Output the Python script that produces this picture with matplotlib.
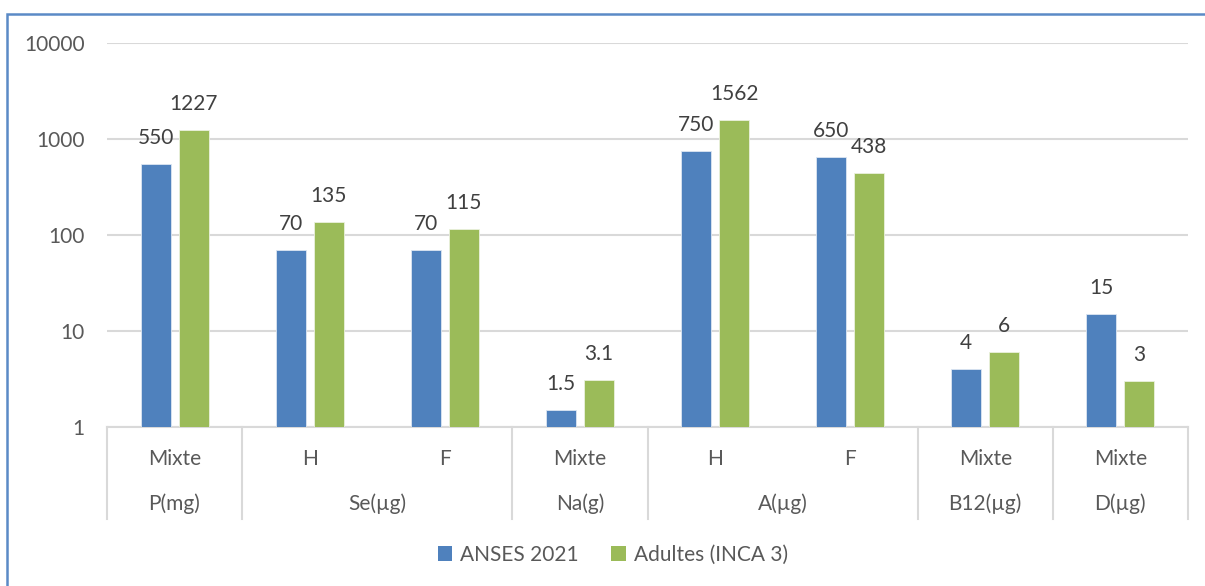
import matplotlib
matplotlib.use("Agg")
import matplotlib.pyplot as plt
from matplotlib.patches import Patch, Rectangle
from matplotlib.lines import Line2D
import numpy as np

plt.rcParams['font.family'] = ['Lato', 'DejaVu Sans']

# ---- data ----
sub_labels = ["Mixte", "H", "F", "Mixte", "H", "F", "Mixte", "Mixte"]
group_labels = ["P(mg)", "Se(µg)", "Na(g)", "A(µg)", "B12(µg)", "D(µg)"]
group_sizes = [1, 2, 1, 2, 1, 1]
anses = [550, 70, 70, 1.5, 750, 650, 4, 15]
inca = [1227, 135, 115, 3.1, 1562, 438, 6, 3]
anses_txt = ["550", "70", "70", "1.5", "750", "650", "4", "15"]
inca_txt = ["1227", "135", "115", "3.1", "1562", "438", "6", "3"]
series_names = ["ANSES 2021", "Adultes (INCA 3)"]
yticks = [1, 10, 100, 1000, 10000]

W, H = 1205, 586
fig = plt.figure(figsize=(W / 100, H / 100), dpi=100)
ax = fig.add_axes([107 / W, 1 - 427 / H, (1188 - 107) / W, (427 - 43) / H])

blue = "#4F81BD"
green = "#9BBB59"
txt_col = "#404040"
ax_col = "#595959"
grid_col = "#D9D9D9"

n = len(anses)
x = np.arange(n)
bw = 0.222
off = 0.141
b1 = ax.bar(x - off, anses, bw, color=blue, edgecolor="#DCE6F2", linewidth=0.6, zorder=3)
b2 = ax.bar(x + off, inca, bw, color=green, edgecolor="#EBF1DE", linewidth=0.6, zorder=3)

ax.set_yscale("log")
ax.set_ylim(1, 10000)
ax.set_xlim(-0.5, n - 0.5)
ax.set_yticks(yticks)
ax.set_yticklabels([str(v) for v in yticks])
ax.minorticks_off()
ax.tick_params(axis="y", length=0, pad=16, labelsize=15, labelcolor=ax_col)
ax.tick_params(axis="x", length=0, labelbottom=False)
ax.grid(axis="y", color=grid_col, linewidth=1.5, zorder=0)
for s in ["left", "right", "top"]:
    ax.spines[s].set_visible(False)
ax.spines["bottom"].set_color(grid_col)
ax.spines["bottom"].set_linewidth(1.5)

for bars, labels in ((b1, anses_txt), (b2, inca_txt)):
    for rect, lab in zip(bars, labels):
        ax.annotate(lab, (rect.get_x() + rect.get_width() / 2, rect.get_height()),
                    xytext=(0, 26), textcoords="offset pixels",
                    ha="center", va="center", fontsize=15, color=txt_col)

# two-level category axis
trans = ax.get_xaxis_transform()
y_row1 = -(459 - 427) / 384
y_row2 = -(504 - 427) / 384
y_sep = -(519 - 427) / 384
for i, lab in enumerate(sub_labels):
    ax.text(i, y_row1, lab, transform=trans, ha="center", va="center",
            fontsize=15, color=ax_col)
start = 0
bounds = [0]
for g, size in zip(group_labels, group_sizes):
    center = start + (size - 1) / 2
    ax.text(center, y_row2, g, transform=trans, ha="center", va="center",
            fontsize=15, color=ax_col)
    start += size
    bounds.append(start)
for b in bounds:
    ax.add_line(Line2D([b - 0.5, b - 0.5], [0, y_sep], transform=trans,
                       color=grid_col, linewidth=1.5, clip_on=False))

handles = [Patch(facecolor=blue, edgecolor="none"), Patch(facecolor=green, edgecolor="none")]
leg = fig.legend(handles, series_names, loc="center", bbox_to_anchor=(613 / W, 1 - 555 / H),
                 ncol=2, frameon=False, fontsize=15, handlelength=0.7, handleheight=0.7,
                 handletextpad=0.4, columnspacing=1.55)
for t in leg.get_texts():
    t.set_color(ax_col)

# chart-area border (left & top visible)
fig.add_artist(Rectangle((7 / W, -0.2), 1.2, (H - 14) / H + 0.2, transform=fig.transFigure,
                         fill=False, edgecolor="#5B8AC6", linewidth=1.8))

fig.savefig("out.png", dpi=100)
